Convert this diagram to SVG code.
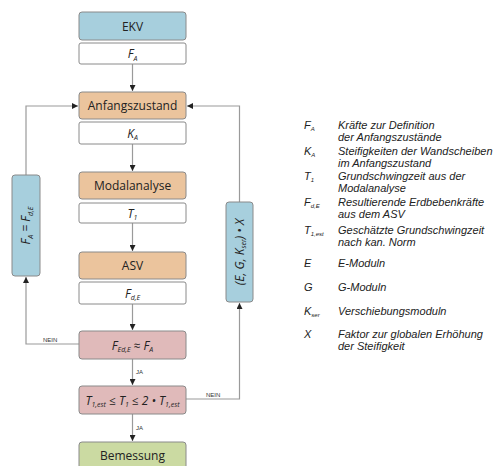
<svg xmlns="http://www.w3.org/2000/svg" width="502" height="466" viewBox="0 0 502 466">
<defs>
<marker id="ah" viewBox="0 0 6 6" refX="6" refY="3" markerWidth="6" markerHeight="6" markerUnits="userSpaceOnUse" orient="auto">
<path d="M0,0 L6,3 L0,6 Z" fill="#222"/>
</marker>
<style>
.box{stroke:#8a8a8a;stroke-width:1}
.blue{fill:#a7cfdd}
.orange{fill:#ebc49d}
.pink{fill:#e0baba}
.green{fill:#cbdaa2}
.white{fill:#fff}
.lbl{font-family:"Open Sans","Liberation Sans",sans-serif;font-size:12px;fill:#222;text-anchor:middle}
.sym{font-family:"Open Sans","Liberation Sans",sans-serif;font-style:italic;font-size:12px;fill:#222;text-anchor:middle}
.sub{font-size:7px}
.con{fill:none;stroke:#9a9a9a;stroke-width:1.2}
.small{font-family:"Liberation Sans",sans-serif;font-size:6px;fill:#333}
.leg{font-family:"Liberation Sans",sans-serif;font-style:italic;font-size:11px;fill:#222}
.legsub{font-size:6px}
</style>
</defs>
<g id="connectors">
<line class="con" x1="132.5" y1="64" x2="132.5" y2="91" marker-end="url(#ah)"/>
<line class="con" x1="132.5" y1="144" x2="132.5" y2="171" marker-end="url(#ah)"/>
<line class="con" x1="132.5" y1="223" x2="132.5" y2="251" marker-end="url(#ah)"/>
<line class="con" x1="132.5" y1="304" x2="132.5" y2="330" marker-end="url(#ah)"/>
<line class="con" x1="132.5" y1="359" x2="132.5" y2="385" marker-end="url(#ah)"/>
<line class="con" x1="132.5" y1="414" x2="132.5" y2="441" marker-end="url(#ah)"/>
<polyline class="con" points="79,344 26,344 26,277" marker-end="url(#ah)"/>
<polyline class="con" points="26,175 26,106 78,106" marker-end="url(#ah)"/>
<polyline class="con" points="186,399 239.5,399 239.5,303" marker-end="url(#ah)"/>
<polyline class="con" points="239.5,202 239.5,106 187,106" marker-end="url(#ah)"/>
<text class="small" x="43" y="342">NEIN</text>
<text class="small" x="206" y="397">NEIN</text>
<text class="small" x="136" y="374">JA</text>
<text class="small" x="136" y="430">JA</text>
</g>
<g id="ekv"><rect class="box blue" x="79" y="12" width="107" height="28" rx="3"/><text class="lbl" x="132.5" y="30.5">EKV</text></g>
<g id="fa"><rect class="box white" x="79" y="43" width="107" height="21" rx="2"/><text class="sym" x="132.5" y="58">F<tspan class="sub" dy="2.5">A</tspan></text></g>
<g id="anfangszustand"><rect class="box orange" x="79" y="92" width="107" height="27" rx="3"/><text class="lbl" x="132.5" y="110">Anfangszustand</text></g>
<g id="ka"><rect class="box white" x="79" y="122" width="107" height="22" rx="2"/><text class="sym" x="132.5" y="137.5">K<tspan class="sub" dy="2.5">A</tspan></text></g>
<g id="modalanalyse"><rect class="box orange" x="79" y="172" width="107" height="27" rx="3"/><text class="lbl" x="132.5" y="190">Modalanalyse</text></g>
<g id="t1"><rect class="box white" x="79" y="203" width="107" height="20" rx="2"/><text class="sym" x="132.5" y="217.5">T<tspan class="sub" dy="2.5">1</tspan></text></g>
<g id="asv"><rect class="box orange" x="79" y="252" width="107" height="27" rx="3"/><text class="lbl" x="132.5" y="270">ASV</text></g>
<g id="fde"><rect class="box white" x="79" y="282" width="107" height="22" rx="2"/><text class="sym" x="132.5" y="297.5">F<tspan class="sub" dy="2.5">d,E</tspan></text></g>
<g id="check-force"><rect class="box pink" x="79" y="331" width="107" height="28" rx="3"/><text class="sym" x="132.5" y="349.5">F<tspan class="sub" dy="2.5">Ed,E</tspan><tspan dy="-2.5"> ≈ F</tspan><tspan class="sub" dy="2.5">A</tspan></text></g>
<g id="check-period"><rect class="box pink" x="79" y="386" width="107" height="28" rx="3"/><text class="sym" x="132.5" y="404.5">T<tspan class="sub" dy="2.5">1,est</tspan><tspan dy="-2.5"> ≤ T</tspan><tspan class="sub" dy="2.5">1</tspan><tspan dy="-2.5"> ≤ 2 • T</tspan><tspan class="sub" dy="2.5">1,est</tspan></text></g>
<g id="bemessung"><rect class="box green" x="79" y="442" width="107" height="30" rx="3"/><text class="lbl" x="132.5" y="460">Bemessung</text></g>
<g id="update-fa"><rect class="box blue" x="12" y="175" width="28" height="101" rx="3"/><text class="sym" transform="translate(30,225.5) rotate(-90)">F<tspan class="sub" dy="2.5">A</tspan><tspan dy="-2.5"> = F</tspan><tspan class="sub" dy="2.5">d,E</tspan></text></g>
<g id="update-stiffness"><rect class="box blue" x="226" y="202" width="27" height="100" rx="3"/><text class="sym" transform="translate(243.5,252) rotate(-90)">(E, G, K<tspan class="sub" dy="2.5">ser</tspan><tspan dy="-2.5">) • X</tspan></text></g>
<g id="legend">
<text class="leg" x="304" y="129">F<tspan class="legsub" dy="2">A</tspan></text>
<text class="leg" x="338" y="129">Kräfte zur Definition</text>
<text class="leg" x="338" y="141">der Anfangszustände</text>
<text class="leg" x="304" y="155">K<tspan class="legsub" dy="2">A</tspan></text>
<text class="leg" x="338" y="155">Steifigkeiten der Wandscheiben</text>
<text class="leg" x="338" y="167">im Anfangszustand</text>
<text class="leg" x="304" y="180">T<tspan class="legsub" dy="2">1</tspan></text>
<text class="leg" x="338" y="180">Grundschwingzeit aus der</text>
<text class="leg" x="338" y="192">Modalanalyse</text>
<text class="leg" x="304" y="206">F<tspan class="legsub" dy="2">d,E</tspan></text>
<text class="leg" x="338" y="206">Resultierende Erdbebenkräfte</text>
<text class="leg" x="338" y="218">aus dem ASV</text>
<text class="leg" x="304" y="234">T<tspan class="legsub" dy="2">1,est</tspan></text>
<text class="leg" x="338" y="234">Geschätzte Grundschwingzeit</text>
<text class="leg" x="338" y="246">nach kan. Norm</text>
<text class="leg" x="304" y="267">E</text>
<text class="leg" x="338" y="267">E-Moduln</text>
<text class="leg" x="304" y="291">G</text>
<text class="leg" x="338" y="291">G-Moduln</text>
<text class="leg" x="304" y="315">K<tspan class="legsub" dy="2">ser</tspan></text>
<text class="leg" x="338" y="315">Verschiebungsmoduln</text>
<text class="leg" x="304" y="338">X</text>
<text class="leg" x="338" y="338">Faktor zur globalen Erhöhung</text>
<text class="leg" x="338" y="350">der Steifigkeit</text>
</g>
</svg>
